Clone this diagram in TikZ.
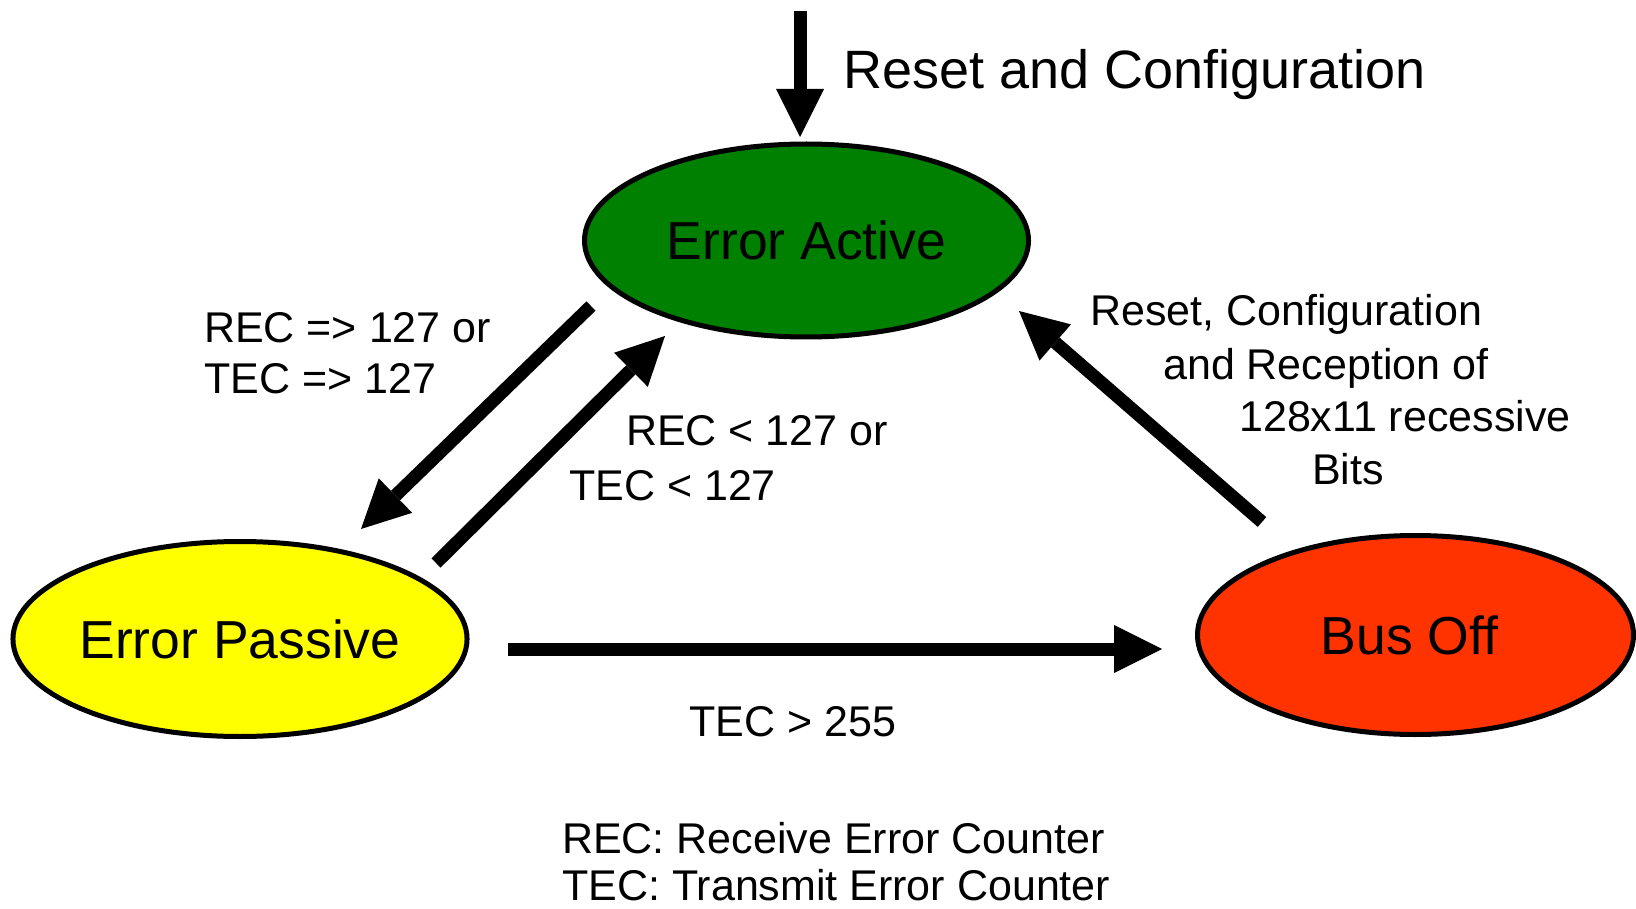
\documentclass[tikz,border=0pt]{standalone}
\usepackage{fontspec}
\setmainfont{Liberation Sans}
\usetikzlibrary{shapes.geometric,arrows.meta}
\definecolor{activegreen}{RGB}{0,128,0}
\definecolor{passiveyellow}{RGB}{255,255,0}
\definecolor{busoffred}{RGB}{255,51,0}
\begin{document}
\begin{tikzpicture}[x=1pt,y=-1pt,
  state/.style={ellipse, draw=black, line width=5pt, inner sep=0pt,
    font=\fontsize{53.5}{60}\selectfont},
  flow/.style={line width=13pt,
    -{Triangle[length=48pt,width=48pt,line width=0pt]}},
  cond/.style={anchor=base west, inner sep=0pt,
    font=\fontsize{43}{52}\selectfont},
  title/.style={anchor=base west, inner sep=0pt,
    font=\fontsize{54}{60}\selectfont},
]
\useasboundingbox (0,0) rectangle (1636,909);
\clip (0,0) rectangle (1636,909);

% states
\node[state, fill=activegreen, minimum width=444pt, minimum height=193pt]
  (active) at (806.5,240.5) {Error Active};
\node[state, fill=passiveyellow, minimum width=443pt, minimum height=195pt]
  (passive) at (240,639) {Error Passive};
\node[state, fill=busoffred, minimum width=436pt, minimum height=199pt]
  (busoff) at (1415.5,635) {\hspace*{-12pt}Bus Off};

% arrow end points
\coordinate (init)     at (800,11);
\coordinate (initend)  at (800,137);
\coordinate (a2p-from) at (591,306);
\coordinate (a2p-to)   at (361,529);
\coordinate (p2a-from) at (436,563);
\coordinate (p2a-to)   at (665,336);
\coordinate (p2b-from) at (508,649);
\coordinate (p2b-to)   at (1162,649);
\coordinate (b2a-from) at (1262,522);
\coordinate (b2a-to)   at (1019,311);

% transitions
\draw[flow] (init) -- (initend);
\draw[flow] (a2p-from) -- (a2p-to);
\draw[flow] (p2a-from) -- (p2a-to);
\draw[flow] (p2b-from) -- (p2b-to);
\draw[flow] (b2a-from) -- (b2a-to);

% labels
\node[title] (reset) at (843,89) {Reset and Configuration};

\node[cond] (up1) at (204,342) {REC => 127 or};
\node[cond] (up2) at (204,393) {TEC => 127};

\node[cond] (down1) at (626,445) {REC < 127 or};
\node[cond] (down2) at (569,500) {TEC < 127};

\node[cond] (off) at (689,736) {TEC > 255};

\node[cond] (rec1) at (1090,326) {Reset, Configuration};
\node[cond] (rec2) at (1163,379) {and Reception of};
\node[cond] (rec3) at (1239,431) {128x11 recessive};
\node[cond] (rec4) at (1312,484) {Bits};

\node[cond] (legend1) at (562,853) {REC: Receive Error Counter};
\node[cond] (legend2) at (562,900) {TEC: Transmit Error Counter};
\end{tikzpicture}
\end{document}
